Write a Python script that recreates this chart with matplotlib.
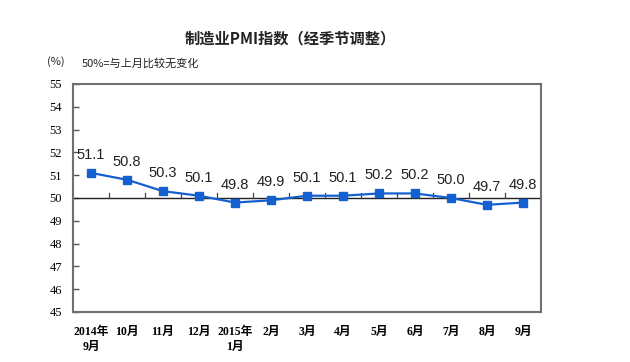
import matplotlib
matplotlib.use("Agg")
import matplotlib.pyplot as plt

months = ["2014年\n9月", "10月", "11月", "12月", "2015年\n1月", "2月", "3月",
          "4月", "5月", "6月", "7月", "8月", "9月"]
pmi = [51.1, 50.8, 50.3, 50.1, 49.8, 49.9, 50.1, 50.1, 50.2, 50.2, 50.0, 49.7, 49.8]
yticks = [45, 46, 47, 48, 49, 50, 51, 52, 53, 54, 55]

title = "制造业PMI指数（经季节调整）"
unit = "(%)"
note = "50%=与上月比较无变化"

cjk = ["Noto Sans CJK SC", "DejaVu Sans"]
serif = ["Liberation Serif", "Noto Sans CJK SC"]

fig = plt.figure(figsize=(6.3, 3.62), dpi=100)
fig.patch.set_facecolor("white")
ax = fig.add_axes([73 / 630, 1 - 312 / 362, 468 / 630, 228 / 362])

x = list(range(len(pmi)))
color = "#1560D0"
ax.plot(x, pmi, color=color, lw=1.6, marker="s", ms=6, mfc=color, mec=color, zorder=3)

for xi, v in zip(x, pmi):
    ax.annotate(f"{v:.1f}", (xi, v), xytext=(0, 13), textcoords="offset points",
                ha="center", va="center", fontsize=10.5, family="Liberation Sans",
                color="#222222")

ax.set_xlim(-0.5, len(pmi) - 0.5)
ax.set_ylim(45, 55)
ax.set_yticks(yticks)
ax.set_yticklabels([str(t) for t in yticks], family=serif, fontsize=9)
ax.tick_params(axis="y", direction="in", length=4, width=1, color="#555555", pad=8)

# x axis line at 50 with upward ticks between categories
ax.axhline(50, color="#222222", lw=1, zorder=2)
for b in range(1, len(pmi)):
    ax.plot([b - 0.5, b - 0.5], [50, 50.22], color="#444444", lw=0.9, zorder=2)

ax.set_xticks(x)
ax.set_xticklabels(months, family=serif, fontsize=8.5, fontweight="bold",
                   linespacing=1.3)
ax.tick_params(axis="x", length=0, pad=10)
for lab in ax.get_xticklabels():
    lab.set_verticalalignment("top")

for s in ax.spines.values():
    s.set_color("#707070")
    s.set_linewidth(1.5)

fig.text(290 / 630, 1 - 38 / 362, title, ha="center", va="center",
         family=cjk, fontsize=11, fontweight="bold", color="#222222")
fig.text(47 / 630, 1 - 62 / 362, unit, ha="left", va="center",
         family=cjk, fontsize=8, color="#222222")
fig.text(82 / 630, 1 - 63 / 362, note, ha="left", va="center",
         family=cjk, fontsize=8, color="#222222")

fig.savefig("out.png", dpi=100, facecolor="white")
